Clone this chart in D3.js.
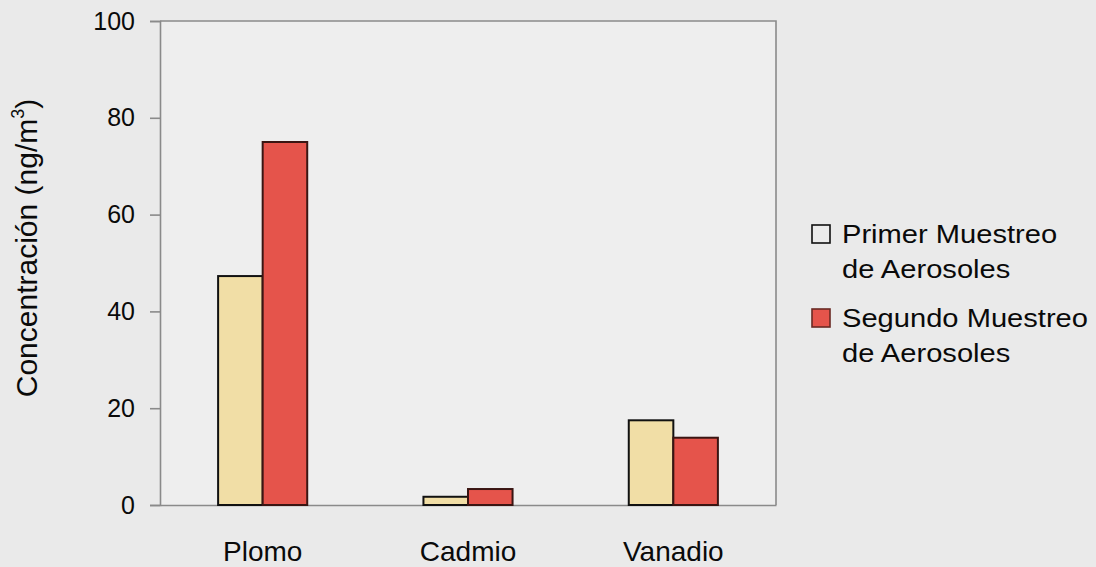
<!DOCTYPE html>
<html>
<head>
<meta charset="utf-8">
<script src="https://cdn.jsdelivr.net/npm/d3@7/dist/d3.min.js"></script>
<style>
  html, body { margin: 0; padding: 0; background: #eaeaea; }
  svg { display: block; }
  text { font-family: Arial, "Liberation Sans", sans-serif; fill: #0a0a0a; }
</style>
</head>
<body>
<svg id="chart" width="1096" height="567"></svg>
<script>
// Concentraciones de metales en aerosoles (ng/m3)
const categories = ["Plomo", "Cadmio", "Vanadio"];
const seriesNames = ["Primer Muestreo de Aerosoles", "Segundo Muestreo de Aerosoles"];
const legendLines = [["Primer Muestreo", "de Aerosoles"], ["Segundo Muestreo", "de Aerosoles"]];
const primerMuestreo = [47.3, 1.7, 17.5];
const segundoMuestreo = [75.0, 3.3, 13.9];
const yTicks = [0, 20, 40, 60, 80, 100];
const yLabel = "Concentración (ng/m";

const colors = ["#f1dea6", "#e5544b"];
const strokes = ["#111111", "#3a1512"];

const svg = d3.select("#chart");
const W = 1096, H = 567;
const plot = { left: 160, right: 776, top: 21, bottom: 505 };

svg.append("rect").attr("width", W).attr("height", H).attr("fill", "#eaeaea");
svg.append("rect")
  .attr("x", plot.left).attr("y", plot.top)
  .attr("width", plot.right - plot.left).attr("height", plot.bottom - plot.top)
  .attr("fill", "#eeeeee");

const x0 = d3.scaleBand().domain(categories).range([plot.left, plot.right]).padding(0);
const groupW = x0.step() * 0.434;
const x1 = d3.scaleBand().domain(seriesNames).range([0, groupW]).padding(0);
const y = d3.scaleLinear().domain([0, 100]).range([plot.bottom, plot.top]);

// plot frame (top and right edges)
svg.append("path")
  .attr("d", `M${plot.left},${plot.top}H${plot.right}V${plot.bottom}`)
  .attr("fill", "none").attr("stroke", "#8a8a8a").attr("stroke-width", 1.6);

// y axis
const yAxis = svg.append("g")
  .attr("transform", `translate(${plot.left},0)`)
  .call(d3.axisLeft(y).tickValues(yTicks).tickSize(10).tickPadding(15).tickFormat(d3.format("d")));
yAxis.select(".domain").attr("stroke", "#8a8a8a").attr("stroke-width", 1.6);
yAxis.selectAll(".tick line").attr("stroke", "#8a8a8a").attr("stroke-width", 1.6);
yAxis.selectAll(".tick text")
  .attr("font-size", 25).attr("fill", "#0a0a0a").attr("dy", "0.32em")
  .style("font-family", "Arial, 'Liberation Sans', sans-serif");

// x axis
const xAxis = svg.append("g")
  .attr("transform", `translate(0,${plot.bottom})`)
  .call(d3.axisBottom(x0).tickSize(0).tickPadding(36));
xAxis.select(".domain").attr("stroke", "#8a8a8a").attr("stroke-width", 1.6);
xAxis.selectAll(".tick text")
  .attr("font-size", 28).attr("fill", "#0a0a0a").attr("dy", "0")
  .attr("y", 56)
  .style("font-family", "Arial, 'Liberation Sans', sans-serif");

// bars
const rows = categories.map((c, i) => ({ cat: c, vals: [primerMuestreo[i], segundoMuestreo[i]] }));
const groups = svg.append("g").selectAll("g").data(rows).join("g")
  .attr("transform", d => `translate(${x0(d.cat) + (x0.bandwidth() - groupW) / 2},0)`);
groups.selectAll("rect")
  .data(d => d.vals.map((v, j) => ({ v, s: seriesNames[j], j })))
  .join("rect")
  .attr("x", d => x1(d.s))
  .attr("y", d => y(d.v))
  .attr("width", x1.bandwidth())
  .attr("height", d => y(0) - y(d.v))
  .attr("fill", d => colors[d.j])
  .attr("stroke", d => strokes[d.j])
  .attr("stroke-width", 2);

// y axis title
const yt = svg.append("text")
  .attr("transform", "translate(37,248) rotate(-90)")
  .attr("text-anchor", "middle")
  .attr("font-size", 30);
yt.append("tspan").text(yLabel);
yt.append("tspan").attr("font-size", 18).attr("dy", "-0.75em").text("3");
yt.append("tspan").attr("dy", "0.45em").text(")");

// legend
const legend = svg.append("g");
const entries = legend.selectAll("g").data(seriesNames).join("g")
  .attr("transform", (d, i) => `translate(812,${225 + i * 84})`);
entries.append("rect")
  .attr("width", 18).attr("height", 18)
  .attr("fill", (d, i) => i === 0 ? "#ececec" : colors[1])
  .attr("stroke", (d, i) => i === 0 ? "#111111" : "#6a2a24")
  .attr("stroke-width", 1.6);
entries.each(function(d, i) {
  const g = d3.select(this);
  legendLines[i].forEach((line, k) => {
    g.append("text")
      .attr("transform", `translate(30,${18 + k * 35}) scale(1.12,1)`)
      .attr("font-size", 26)
      .text(line);
  });
});
</script>
</body>
</html>
